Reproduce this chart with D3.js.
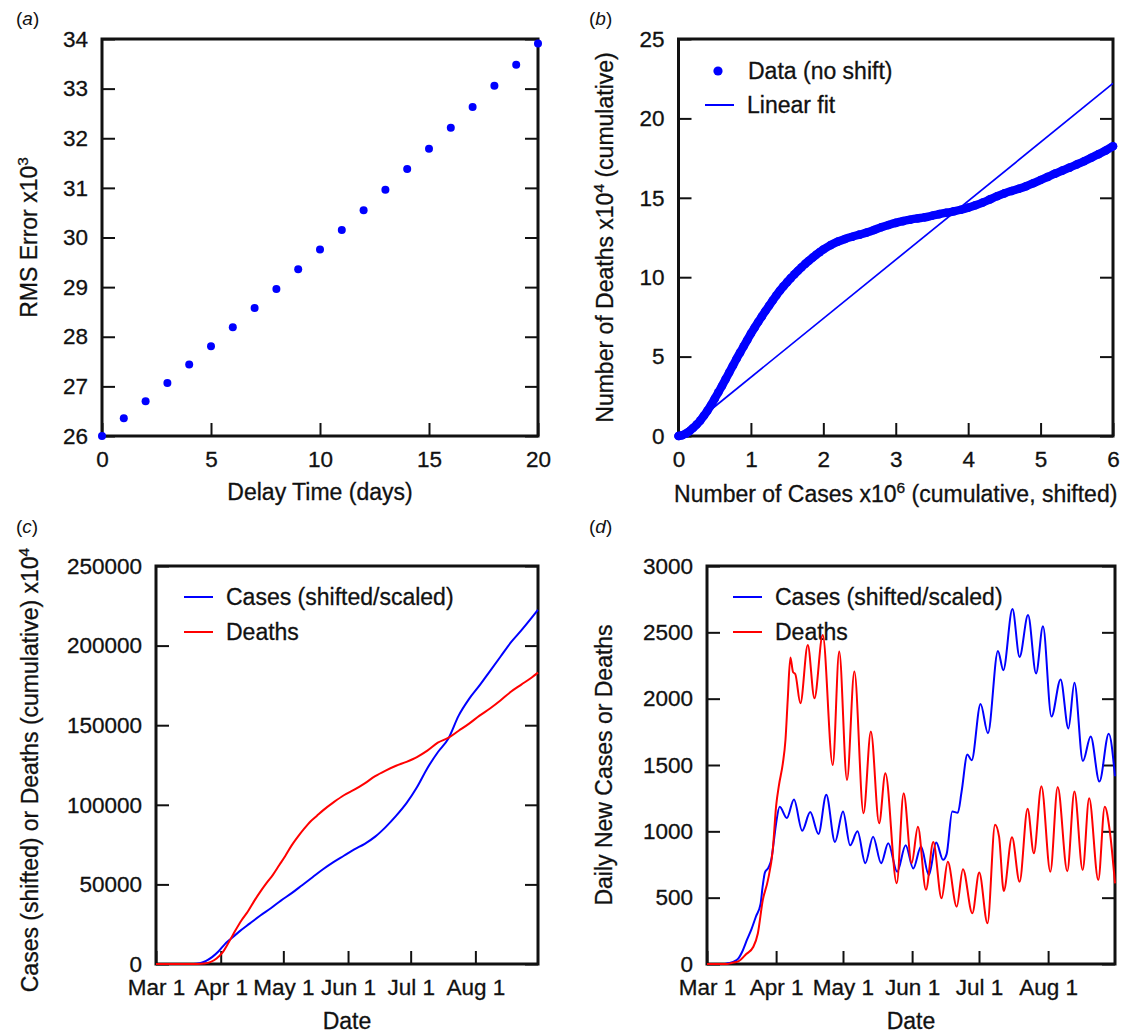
<!DOCTYPE html>
<html>
<head>
<meta charset="utf-8">
<script src="https://cdn.jsdelivr.net/npm/d3@7"></script>
<style>
  body { margin: 0; background: #fff; }
  text { font-family: "Liberation Sans", Arial, Helvetica, sans-serif; fill: #111; stroke: #111; stroke-width: 0.3px; }
</style>
</head>
<body>
<div id="chart"></div>
<script>
// (a) RMS error vs delay time
const delayDays = [0, 1, 2, 3, 4, 5, 6, 7, 8, 9, 10, 11, 12, 13, 14, 15, 16, 17, 18, 19, 20];
const rmsError = [26.0, 26.36, 26.70, 27.07, 27.44, 27.81, 28.19, 28.58, 28.96, 29.36, 29.76,
                  30.15, 30.55, 30.96, 31.38, 31.79, 32.21, 32.63, 33.06, 33.48, 33.91];

// (b) deaths (x10^4) vs cases (x10^6)
const bCases = [0.00, 0.05, 0.10, 0.15, 0.20, 0.25, 0.30, 0.35, 0.40, 0.45, 0.50, 0.55, 0.60, 0.65,
                0.70, 0.75, 0.80, 0.85, 0.90, 0.95, 1.00, 1.05, 1.10, 1.15, 1.20, 1.25, 1.30, 1.35,
                1.40, 1.45, 1.50, 1.55, 1.60, 1.65, 1.70, 1.75, 1.80, 1.85, 1.90, 1.95, 2.00, 2.10,
                2.20, 2.30, 2.40, 2.50, 2.60, 2.70, 2.80, 2.90, 3.00, 3.10, 3.20, 3.30, 3.40, 3.50,
                3.60, 3.70, 3.80, 3.90, 4.00, 4.10, 4.20, 4.30, 4.40, 4.50, 4.60, 4.70, 4.80, 4.90,
                5.00, 5.10, 5.20, 5.30, 5.40, 5.50, 5.60, 5.70, 5.80, 5.90, 6.00];
const bDeaths = [0.00, 0.05, 0.15, 0.30, 0.50, 0.72, 0.97, 1.27, 1.60, 1.95, 2.35, 2.75, 3.15, 3.58,
                 4.00, 4.42, 4.85, 5.25, 5.65, 6.05, 6.45, 6.82, 7.18, 7.52, 7.87, 8.20, 8.53, 8.85,
                 9.15, 9.43, 9.69, 9.94, 10.18, 10.41, 10.63, 10.84, 11.04, 11.23, 11.41, 11.58, 11.74, 12.02,
                 12.24, 12.41, 12.55, 12.68, 12.81, 12.97, 13.15, 13.29, 13.42, 13.53, 13.62, 13.70, 13.77, 13.87,
                 13.97, 14.06, 14.15, 14.25, 14.38, 14.53, 14.70, 14.90, 15.10, 15.28, 15.43, 15.57, 15.73, 15.92,
                 16.12, 16.32, 16.52, 16.71, 16.90, 17.10, 17.30, 17.52, 17.75, 17.98, 18.25];
const fitCases = [0.4, 6.0];
const fitDeaths = [1.48, 22.2];

// (c) cumulative, x = days since Mar 1
const cCaseDays = [0, 18, 21, 24, 27, 30, 33, 36, 40, 45, 50, 55, 60, 65, 70, 75, 80, 85, 90, 95, 100,
                   105, 110, 115, 120, 125, 130, 135, 140, 145, 150, 155, 160, 165, 170, 175, 180, 183];
const cCases = [0, 0, 500, 2000, 4500, 8000, 12500, 16000, 20500, 25500, 30500, 35000, 40000, 44500,
                49500, 54500, 59500, 64000, 68000, 72000, 75500, 80000, 86000, 93000, 101000, 111000,
                123000, 133000, 141500, 156000, 166500, 175000, 184000, 193000, 202000, 209500, 217500, 222500];
const cDeathDays = [0, 20, 23, 26, 29, 32, 35, 38, 41, 44, 47, 50, 53, 56, 59, 62, 65, 68, 71, 74, 77, 80,
                    85, 90, 95, 100, 105, 110, 115, 120, 125, 130, 135, 140, 145, 150, 155, 160, 165, 170,
                    175, 180, 183];
const cDeaths = [0, 0, 300, 1200, 3500, 7500, 14000, 21000, 27500, 33000, 39500, 45500, 51000, 56000,
                 62000, 68000, 74500, 80000, 85000, 89500, 93000, 96500, 101500, 106000, 109500, 113500,
                 118000, 121500, 124500, 127000, 130000, 134000, 139000, 142000, 146500, 151000, 156000,
                 160500, 165500, 171000, 175500, 180000, 183000];

// (d) daily new, x = days since Mar 1
const dCaseDays = [0, 8, 10, 12, 14, 16, 18, 20, 22, 24, 25, 26, 27.5, 29, 30, 31, 32.6, 35.8, 39, 42.7,
                   46.3, 50, 53.5, 57.4, 61, 64.2, 67.5, 71, 74.5, 78.1, 81.3, 85.3, 89.1, 92.5, 96, 99.5,
                   102.8, 105.9, 107.5, 110, 112.5, 114.2, 116.8, 118.7, 122.7, 126, 130.5, 132.9, 137,
                   140.2, 144, 147.6, 150.7, 154.5, 158.6, 162.1, 164.8, 168.6, 172.1, 176, 180.2, 183];
const dCases = [0, 0, 8, 18, 40, 100, 185, 265, 360, 450, 590, 690, 725, 800, 930, 1060, 1185, 1100, 1240,
                1005, 1145, 980, 1275, 920, 1150, 895, 1000, 760, 960, 760, 910, 695, 895, 720, 885, 670,
                915, 785, 830, 1150, 1140, 1300, 1580, 1535, 1960, 1740, 2360, 2215, 2675, 2315, 2630,
                2190, 2545, 1865, 2145, 1775, 2120, 1530, 1715, 1375, 1735, 1415];
const dDeathDays = [0, 9, 11, 14, 17.6, 20.8, 22.8, 25, 27.3, 29.5, 31, 32.3, 34, 35.2, 36.2, 37.4, 38.6,
                    39.6, 41.9, 45.2, 48.2, 51.9, 56.4, 59.3, 62.8, 66.1, 70.2, 73.5, 77.2, 80, 85.1, 88.2,
                    91.8, 94.6, 98.2, 101.5, 105.2, 108, 112, 114.8, 119, 122.1, 125.8, 129.2, 131, 133.1,
                    136.8, 140.2, 143.8, 146.6, 150, 154, 157.3, 161.6, 164.8, 168.5, 171.4, 175.5, 178.4,
                    180.6, 183];
const dDeaths = [0, 0, 8, 20, 75, 130, 230, 480, 630, 860, 1190, 1350, 1510, 1690, 1990, 2310, 2200, 2185,
                 1965, 2405, 2003, 2480, 1500, 2355, 1387, 2204, 1136, 1752, 1060, 1437, 608, 1287, 760,
                 1035, 560, 920, 495, 770, 432, 715, 382, 690, 307, 1050, 960, 550, 955, 620, 1170, 834,
                 1340, 696, 1335, 700, 1300, 709, 1249, 633, 1186, 1010, 608];

const blue = "#0000ff";
const red = "#ff0000";
const ink = "#111";

const width = 1126;
const height = 1033;
const svg = d3.select("#chart")
    .append("svg")
    .attr("width", width)
    .attr("height", height);

const t0 = new Date(2020, 2, 1);
const toDate = d => new Date(t0.getTime() + d * 864e5);
const tEnd = toDate(183);

// plot boxes
const pa = {l: 102, r: 538, t: 39, b: 436};
const pb = {l: 678.5, r: 1113, t: 39, b: 436};
const pc = {l: 156, r: 538, t: 566, b: 964};
const pd = {l: 707, r: 1115, t: 566, b: 964};

function styleAxis(g) {
    g.select(".domain").remove();
    g.attr("font-size", null).attr("font-family", null);
    g.selectAll(".tick line").attr("stroke", ink).attr("stroke-width", 2);
    g.selectAll(".tick text").attr("font-size", "22.5px").attr("fill", ink);
}

function frame(p, x, y, xTicks, yTicks, xFmt, yFmt) {
    svg.append("g")
        .attr("transform", `translate(0,${p.b})`)
        .call(d3.axisBottom(x).tickValues(xTicks).tickSize(-13).tickPadding(15).tickFormat(xFmt))
        .call(styleAxis);
    svg.append("g")
        .attr("transform", `translate(${p.l},0)`)
        .call(d3.axisLeft(y).tickValues(yTicks).tickSize(-13).tickPadding(14).tickFormat(yFmt))
        .call(styleAxis);
    svg.append("g")
        .attr("transform", `translate(${p.r},0)`)
        .call(d3.axisRight(y).tickValues(yTicks).tickSize(-13).tickFormat(() => ""))
        .call(styleAxis);
    svg.append("rect")
        .attr("x", p.l).attr("y", p.t)
        .attr("width", p.r - p.l).attr("height", p.b - p.t)
        .attr("fill", "none")
        .attr("stroke", ink)
        .attr("stroke-width", 3);
}

function panelLabel(x, y, letter) {
    const t = svg.append("text").attr("x", x).attr("y", y).attr("font-size", "19px")
        .style("stroke-width", "0px");
    t.append("tspan").text("(");
    t.append("tspan").attr("font-style", "italic").text(letter);
    t.append("tspan").text(")");
}

// parts: [text, isSuperscript]
function yTitle(x, y, parts) {
    const t = svg.append("text")
        .attr("transform", `translate(${x},${y}) rotate(-90)`)
        .attr("text-anchor", "middle")
        .attr("font-size", "23px");
    addParts(t, parts);
}
function xTitle(x, y, parts) {
    const t = svg.append("text")
        .attr("x", x).attr("y", y)
        .attr("text-anchor", "middle")
        .attr("font-size", "23px");
    addParts(t, parts);
}
function addParts(t, parts) {
    let up = false;
    parts.forEach(([s, sup]) => {
        const ts = t.append("tspan").text(s);
        if (sup) { ts.attr("font-size", "15.5px").attr("dy", -9); up = true; }
        else if (up) { ts.attr("dy", 9); up = false; }
    });
}

function legendLine(x, y, color, label) {
    svg.append("line")
        .attr("x1", x).attr("x2", x + 29)
        .attr("y1", y).attr("y2", y)
        .attr("stroke", color).attr("stroke-width", 2);
    svg.append("text")
        .attr("x", x + 42).attr("y", y + 8)
        .attr("font-size", "23px")
        .text(label);
}

const fmtInt = d3.format("d");
const fmtDate = d3.timeFormat("%b %-d");

// ---------- (a) ----------
const xA = d3.scaleLinear().domain([0, 20]).range([pa.l, pa.r]);
const yA = d3.scaleLinear().domain([26, 34]).range([pa.b, pa.t]);
frame(pa, xA, yA, [0, 5, 10, 15, 20], d3.range(26, 35), fmtInt, fmtInt);

svg.append("g")
    .selectAll("circle")
    .data(delayDays)
    .join("circle")
    .attr("cx", d => xA(d))
    .attr("cy", (d, i) => yA(rmsError[i]))
    .attr("r", 4)
    .attr("fill", blue);

panelLabel(16, 25, "a");
yTitle(37, 237.5, [["RMS Error x10", false], ["3", true]]);
xTitle((pa.l + pa.r) / 2, 500, [["Delay Time (days)", false]]);

// ---------- (b) ----------
const xB = d3.scaleLinear().domain([0, 6]).range([pb.l, pb.r]);
const yB = d3.scaleLinear().domain([0, 25]).range([pb.b, pb.t]);
frame(pb, xB, yB, d3.range(0, 7), [0, 5, 10, 15, 20, 25], fmtInt, fmtInt);

const bPts = bCases.map((c, i) => [c, bDeaths[i]]);
svg.append("path")
    .attr("fill", "none")
    .attr("stroke", blue)
    .attr("stroke-width", 8.4)
    .attr("stroke-linejoin", "round")
    .attr("stroke-linecap", "round")
    .attr("d", d3.line().curve(d3.curveMonotoneX).x(d => xB(d[0])).y(d => yB(d[1]))(bPts));
svg.append("g")
    .selectAll("circle")
    .data(bPts)
    .join("circle")
    .attr("cx", d => xB(d[0]))
    .attr("cy", d => yB(d[1]))
    .attr("r", 4.3)
    .attr("fill", blue);

svg.append("line")
    .attr("x1", xB(fitCases[0])).attr("y1", yB(fitDeaths[0]))
    .attr("x2", xB(fitCases[1])).attr("y2", yB(fitDeaths[1]))
    .attr("stroke", blue)
    .attr("stroke-width", 1.7);

svg.append("circle").attr("cx", 718).attr("cy", 71).attr("r", 4.6).attr("fill", blue);
svg.append("text").attr("x", 748).attr("y", 79).attr("font-size", "23px").text("Data (no shift)");
legendLine(705, 105, blue, "Linear fit");

panelLabel(589, 25, "b");
yTitle(613, 237.5, [["Number of Deaths x10", false], ["4", true], [" (cumulative)", false]]);
xTitle((pb.l + pb.r) / 2, 502, [["Number of Cases x10", false], ["6", true], [" (cumulative, shifted)", false]]);

// ---------- (c) ----------
const xC = d3.scaleTime().domain([t0, tEnd]).range([pc.l, pc.r]);
const yC = d3.scaleLinear().domain([0, 250000]).range([pc.b, pc.t]);
frame(pc, xC, yC, xC.ticks(d3.timeMonth.every(1)), d3.range(0, 250001, 50000), fmtDate, fmtInt);

legendLine(184, 597, blue, "Cases (shifted/scaled)");
legendLine(184, 632, red, "Deaths");

const lineC = d3.line().curve(d3.curveMonotoneX).x(d => xC(toDate(d[0]))).y(d => yC(d[1]));
svg.append("path")
    .attr("fill", "none").attr("stroke", blue).attr("stroke-width", 2)
    .attr("d", lineC(cCaseDays.map((d, i) => [d, cCases[i]])));
svg.append("path")
    .attr("fill", "none").attr("stroke", red).attr("stroke-width", 2)
    .attr("d", lineC(cDeathDays.map((d, i) => [d, cDeaths[i]])));

panelLabel(16, 533, "c");
yTitle(38, 770, [["Cases (shifted) or Deaths (cumulative) x10", false], ["4", true]]);
xTitle((pc.l + pc.r) / 2, 1029, [["Date", false]]);

// ---------- (d) ----------
const xD = d3.scaleTime().domain([t0, tEnd]).range([pd.l, pd.r]);
const yD = d3.scaleLinear().domain([0, 3000]).range([pd.b, pd.t]);
frame(pd, xD, yD, xD.ticks(d3.timeMonth.every(1)), d3.range(0, 3001, 500), fmtDate, fmtInt);

legendLine(733, 597, blue, "Cases (shifted/scaled)");
legendLine(733, 632, red, "Deaths");

const lineD = d3.line().curve(d3.curveMonotoneX).x(d => xD(toDate(d[0]))).y(d => yD(d[1]));
svg.append("path")
    .attr("fill", "none").attr("stroke", blue).attr("stroke-width", 2)
    .attr("d", lineD(dCaseDays.map((d, i) => [d, dCases[i]])));
svg.append("path")
    .attr("fill", "none").attr("stroke", red).attr("stroke-width", 2)
    .attr("d", lineD(dDeathDays.map((d, i) => [d, dDeaths[i]])));

panelLabel(589, 533, "d");
yTitle(612, 765, [["Daily New Cases or Deaths", false]]);
xTitle((pd.l + pd.r) / 2, 1029, [["Date", false]]);
</script>
</body>
</html>
